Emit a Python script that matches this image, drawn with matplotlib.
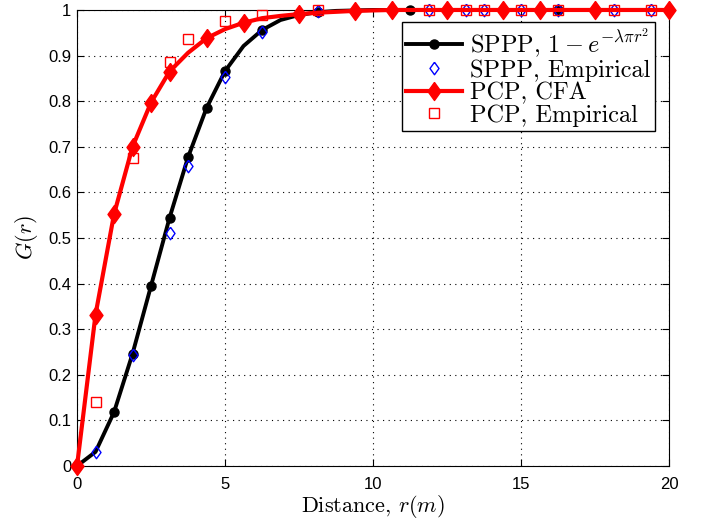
import matplotlib
matplotlib.use('Agg')
import matplotlib.pyplot as plt
import numpy as np

plt.rcParams['mathtext.fontset'] = 'cm'
plt.rcParams['font.family'] = ['Liberation Sans', 'DejaVu Sans']
plt.rcParams['axes.unicode_minus'] = False

# distance grid of the curves (m)
r = [0, 0.625, 1.25, 1.875, 2.5, 3.125, 3.75, 4.375, 5, 5.625, 6.25, 6.875,
     7.5, 8.125, 8.75, 9.375, 10, 10.625, 11.25, 11.875, 12.5, 13.125, 13.75,
     14.375, 15, 15.625, 16.25, 16.875, 17.5, 18.125, 18.75, 19.375, 20]

# SPPP, 1 - exp(-lambda pi r^2)
sppp_cfa = [0, 0.031, 0.118, 0.246, 0.395, 0.544, 0.677, 0.785, 0.866, 0.921,
            0.956, 0.978, 0.989, 0.995, 0.998, 0.999, 1, 1, 1, 1, 1, 1, 1, 1,
            1, 1, 1, 1, 1, 1, 1, 1, 1]
# PCP, CFA
pcp_cfa = [0, 0.332, 0.552, 0.700, 0.797, 0.865, 0.906, 0.938, 0.958, 0.972,
           0.982, 0.987, 0.991, 0.994, 0.996, 0.998, 0.999, 1, 1, 1, 1, 1, 1,
           1, 1, 1, 1, 1, 1, 1, 1, 1, 1]

# where the markers sit on the curves
sppp_mark_r = [0, 1.25, 1.875, 2.5, 3.125, 3.75, 4.375, 5, 6.25, 8.125,
               11.25, 16.25, 20]
pcp_mark_r = [0, 0.625, 1.25, 1.875, 2.5, 3.125, 4.375, 5.625, 7.5, 9.375,
              10.625, 12.5, 14.375, 15.625, 17.5, 20]

# empirical points
emp_r = [0.625, 1.875, 3.125, 3.75, 5, 6.25, 8.125, 11.875, 13.125, 13.75,
         15, 16.25, 18.125, 19.375]
sppp_emp = [0.030, 0.243, 0.510, 0.657, 0.852, 0.952, 0.997, 1, 1, 1, 1, 1, 1, 1]
pcp_emp = [0.140, 0.675, 0.886, 0.937, 0.975, 0.990, 0.999, 1, 1, 1, 1, 1, 1, 1]

diamond = [(0, 1), (0.72, 0), (0, -1), (-0.72, 0), (0, 1)]

fig = plt.figure(figsize=(7.06, 5.25), dpi=100)
ax = fig.add_axes([0.1091, 0.1124, 0.8385, 0.8686])

sppp_mark_y = np.interp(sppp_mark_r, r, sppp_cfa)
pcp_mark_y = np.interp(pcp_mark_r, r, pcp_cfa)

ax.plot(r, sppp_cfa, '-', color='black', lw=2.8, zorder=3, clip_on=False)
ax.plot(sppp_mark_r, sppp_mark_y, 'o', color='black', ms=6.5, zorder=3,
        clip_on=False)
ax.plot(emp_r, sppp_emp, ls='none', marker=diamond, ms=9, mfc='none',
        mec='blue', mew=1.0, zorder=4, clip_on=False)
ax.plot(r, pcp_cfa, '-', color='red', lw=3, zorder=5, clip_on=False)
ax.plot(pcp_mark_r, pcp_mark_y, ls='none', marker=diamond, ms=13,
        color='red', zorder=5, clip_on=False)
ax.plot(emp_r, pcp_emp, 's', ms=6.5, mfc='none', mec='red', mew=1.0,
        zorder=6, clip_on=False)

# legend proxies
h1, = ax.plot([], [], '-o', color='black', lw=2.8, ms=6.5)
h2, = ax.plot([], [], ls='none', marker=diamond, ms=9, mfc='none', mec='blue', mew=1.0)
h3, = ax.plot([], [], '-', marker=diamond, color='red', lw=3, ms=13)
h4, = ax.plot([], [], 's', ms=6.5, mfc='none', mec='red', mew=1.0)
leg = ax.legend([h1, h2, h3, h4],
                [r'SPPP, $1-e^{-\lambda\pi r^2}$',
                 'SPPP, Empirical',
                 'PCP, CFA',
                 'PCP, Empirical'],
                loc='upper right', bbox_to_anchor=(0.976, 0.974),
                borderaxespad=0, prop={'family': 'cmr10', 'size': 17.5},
                fancybox=False, framealpha=1,
                edgecolor='black', handlelength=2.3, handletextpad=0.3,
                labelspacing=0.0, borderpad=0.2)
leg.get_frame().set_linewidth(1.0)
leg.set_zorder(10)

ax.set_xlim(0, 20)
ax.set_ylim(0, 1)
ax.set_xticks([0, 5, 10, 15, 20])
ax.set_yticks(np.arange(0, 1.01, 0.1))
ax.set_yticklabels(['0', '0.1', '0.2', '0.3', '0.4', '0.5', '0.6', '0.7',
                    '0.8', '0.9', '1'])
ax.grid(True, ls=(0, (1, 4)), color='black', lw=0.8)
ax.tick_params(direction='in', labelsize=12, length=5, top=True, right=True)
ax.tick_params(axis='x', pad=8)
ax.tick_params(axis='y', pad=4)
ax.set_xlabel(r'Distance, $r(m)$', family='cmr10', fontsize=16, labelpad=1)
ax.set_ylabel(r'$G(r)$', fontsize=16, labelpad=6)

fig.savefig('out.png', dpi=100)
